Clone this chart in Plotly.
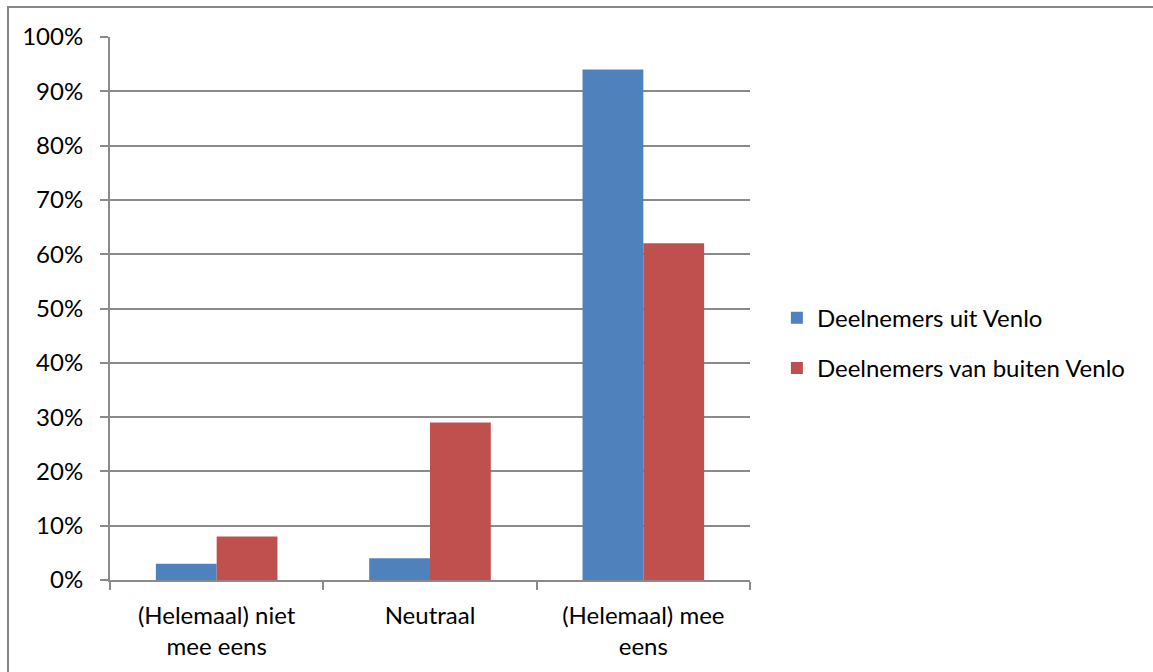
import plotly.graph_objects as go

categories = ["(Helemaal) niet<br>mee eens", "Neutraal", "(Helemaal) mee<br>eens"]
venlo = [0.03, 0.04, 0.94]
buiten = [0.08, 0.29, 0.62]
series_names = ["Deelnemers uit Venlo", "Deelnemers van buiten Venlo"]
tick_vals = [0, 0.1, 0.2, 0.3, 0.4, 0.5, 0.6, 0.7, 0.8, 0.9, 1.0]
tick_text = ["0%", "10%", "20%", "30%", "40%", "50%", "60%", "70%", "80%", "90%", "100%"]

FONT = "Lato"
FS = 24
GRID = "#8a8a8a"

fig = go.Figure()
fig.add_trace(go.Bar(x=categories, y=venlo, name=series_names[0],
                     marker=dict(color="#4F81BD", line=dict(width=0)), legendgroup="a"))
fig.add_trace(go.Bar(x=categories, y=buiten, name=series_names[1],
                     marker=dict(color="#C0504D", line=dict(width=0)), legendgroup="b"))

fig.update_layout(
    width=1153, height=672,
    margin=dict(l=110, r=403, t=37, b=92),
    paper_bgcolor="white", plot_bgcolor="white",
    barmode="group", bargap=0.43, bargroupgap=0,
    font=dict(family=FONT, size=FS, color="#000000"),
    showlegend=True,
    legend=dict(x=1.042, xanchor="left", y=0.436, yanchor="middle",
                font=dict(family=FONT, size=FS, color="#000000"),
                tracegroupgap=16, bgcolor="rgba(0,0,0,0)"),
    xaxis=dict(type="category", showline=True, linecolor=GRID, linewidth=2,
               ticks="outside", tickson="boundaries", ticklen=8, tickcolor=GRID, tickwidth=2,
               showgrid=False, ticklabelstandoff=13,
               tickfont=dict(family=FONT, size=FS, color="#000000")),
    yaxis=dict(range=[0, 1.0], tickvals=tick_vals, ticktext=tick_text,
               showline=True, linecolor=GRID, linewidth=2,
               ticks="outside", ticklen=8, tickcolor=GRID, tickwidth=2,
               showgrid=True, gridcolor=GRID, gridwidth=2, zeroline=False,
               ticklabelstandoff=12,
               tickfont=dict(family=FONT, size=FS, color="#000000")),
    shapes=[dict(type="rect", xref="paper", yref="paper",
                 x0=(8 - 110) / 640, x1=2, y0=-1, y1=(580 - 7) / 543,
                 line=dict(color="#868686", width=2), fillcolor="rgba(0,0,0,0)",
                 layer="below")],
)

fig.write_html("out.html")
